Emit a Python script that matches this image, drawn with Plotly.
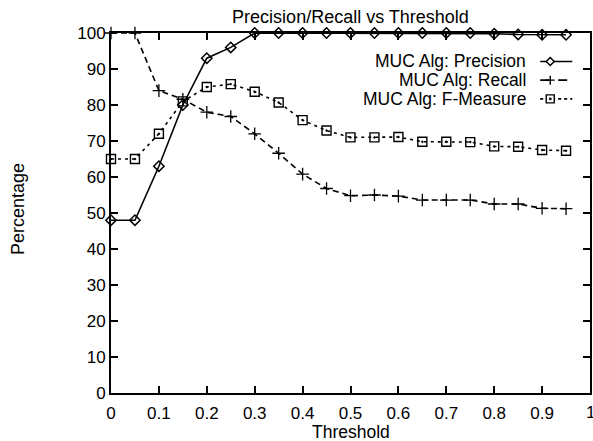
import plotly.graph_objects as go

threshold = [0, 0.05, 0.1, 0.15, 0.2, 0.25, 0.3, 0.35, 0.4, 0.45,
             0.5, 0.55, 0.6, 0.65, 0.7, 0.75, 0.8, 0.85, 0.9, 0.95]
precision = [48, 48, 63, 80, 93, 96, 100, 100, 100, 100,
             100, 100, 100, 100, 100, 100, 99.8, 99.6, 99.5, 99.5]
recall = [100, 100, 84, 81.6, 78, 76.8, 72, 66.6, 60.8, 56.8,
          54.8, 55, 54.7, 53.6, 53.6, 53.6, 52.5, 52.5, 51.3, 51.2]
fmeasure = [65, 65, 72, 81, 85, 85.8, 83.7, 80.7, 75.8, 72.9,
            71, 71, 71.1, 69.8, 69.8, 69.7, 68.5, 68.4, 67.5, 67.3]

names = ["MUC Alg: Precision", "MUC Alg: Recall", "MUC Alg: F-Measure"]
FONT = "Liberation Sans, Arial, Helvetica, sans-serif"

fig = go.Figure()
fig.add_trace(go.Scatter(
    x=threshold, y=precision, name=names[0], mode="lines+markers",
    line=dict(color="black", width=1.6),
    marker=dict(symbol="diamond-open", size=8, color="black", line=dict(width=1.5)),
    cliponaxis=False))
fig.add_trace(go.Scatter(
    x=threshold, y=recall, name=names[1], mode="lines+markers",
    line=dict(color="black", width=1.6, dash="6px,4px"),
    marker=dict(symbol="cross-thin-open", size=9, color="black", line=dict(width=1.3, color="black")),
    cliponaxis=False))
fig.add_trace(go.Scatter(
    x=threshold, y=fmeasure, name=names[2], mode="lines+markers",
    line=dict(color="black", width=1.6, dash="3px,4px"),
    marker=dict(symbol="square-open-dot", size=9, color="black", line=dict(width=1.4)),
    cliponaxis=False))

# gnuplot-style key: text right-aligned, sample to its right
rows_y = [0.921, 0.869, 0.817]
shapes = []
annotations = []
dashes = ["solid", "dash", "dot"]
for i, (nm, yy) in enumerate(zip(names, rows_y)):
    annotations.append(dict(x=0.869, y=yy, xref="paper", yref="paper", text=nm,
                            showarrow=False, xanchor="right", yanchor="middle",
                            borderpad=0,
                            font=dict(family=FONT, size=17.5, color="black")))
    shapes.append(dict(type="line", xref="paper", yref="paper", x0=0.896, x1=0.963,
                       y0=yy, y1=yy, line=dict(color="black", width=1.6, dash=dashes[i])))
mx = 0.917
shapes.append(dict(type="path", xref="paper", yref="paper", xsizemode="pixel", ysizemode="pixel",
                   xanchor=mx, yanchor=rows_y[0], path="M -4 0 L 0 4 L 4 0 L 0 -4 Z",
                   fillcolor="white", line=dict(color="black", width=1.5)))
shapes.append(dict(type="path", xref="paper", yref="paper", xsizemode="pixel", ysizemode="pixel",
                   xanchor=mx, yanchor=rows_y[1], path="M -4.5 0 L 4.5 0 M 0 -4.5 L 0 4.5",
                   line=dict(color="black", width=1.4)))
shapes.append(dict(type="path", xref="paper", yref="paper", xsizemode="pixel", ysizemode="pixel",
                   xanchor=mx, yanchor=rows_y[2], path="M -4 -4 L 4 -4 L 4 4 L -4 4 Z",
                   fillcolor="white", line=dict(color="black", width=1.4)))
shapes.append(dict(type="path", xref="paper", yref="paper", xsizemode="pixel", ysizemode="pixel",
                   xanchor=mx, yanchor=rows_y[2], path="M -1 -1 L 1 -1 L 1 1 L -1 1 Z",
                   fillcolor="black", line=dict(color="black", width=0.5)))

annotations.append(dict(x=0.5, y=-0.108, xref="paper", yref="paper", text="Threshold",
                        showarrow=False, xanchor="center", yanchor="middle",
                        font=dict(family=FONT, size=17.5, color="black")))
annotations.append(dict(x=-0.193, y=0.51, xref="paper", yref="paper", text="Percentage",
                        showarrow=False, textangle=-90, xanchor="center", yanchor="middle",
                        font=dict(family=FONT, size=18, color="black")))
# last x tick label sits on the page edge (plotly drops it), half clipped as in the original
annotations.append(dict(x=1, y=0, xref="paper", yref="paper", text="1", yshift=-19,
                        showarrow=False, xanchor="center", yanchor="middle",
                        font=dict(family=FONT, size=17, color="black")))

axis_common = dict(showline=True, linecolor="black", linewidth=2, mirror="ticks",
                   ticks="inside", ticklen=7, tickwidth=2, tickcolor="black",
                   showgrid=False, zeroline=False,
                   tickfont=dict(family=FONT, size=17, color="black"))

fig.update_layout(
    width=593, height=441,
    margin=dict(l=111, r=1, t=33, b=48),
    paper_bgcolor="white", plot_bgcolor="white",
    showlegend=False,
    title=dict(text="Precision/Recall vs Threshold", x=0.5, xref="paper", y=0.962,
               yanchor="middle", font=dict(family=FONT, size=18, color="black")),
    xaxis=dict(range=[0, 1], tickvals=[0, 0.1, 0.2, 0.3, 0.4, 0.5, 0.6, 0.7, 0.8, 0.9, 1],
               ticktext=["0", "0.1", "0.2", "0.3", "0.4", "0.5", "0.6", "0.7", "0.8", "0.9", "1"],
               ticklabelstandoff=4, **axis_common),
    yaxis=dict(range=[0, 100], dtick=10, ticklabelstandoff=0, **axis_common),
    shapes=shapes,
    annotations=annotations,
)

fig.write_html("out.html", config={"displayModeBar": False},
               post_script="document.body.style.margin='0';")
